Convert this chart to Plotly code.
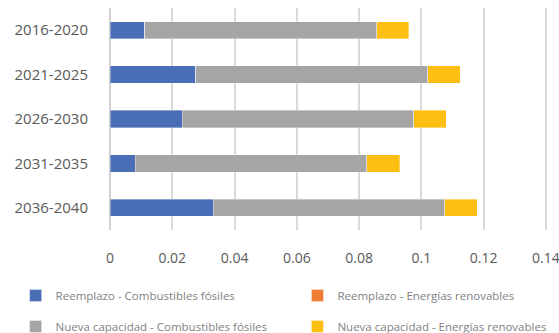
import plotly.graph_objects as go

# Periods and stacked capacity segments
periods = ["2016-2020", "2021-2025", "2026-2030", "2031-2035", "2036-2040"]
reemplazo_fosiles = [0.0112, 0.0276, 0.0232, 0.0081, 0.0331]
reemplazo_renovables = [0.0, 0.0, 0.0, 0.0, 0.0]
nueva_fosiles = [0.0745, 0.0744, 0.0744, 0.0744, 0.0744]
nueva_renovables = [0.0103, 0.0105, 0.0104, 0.0105, 0.0105]
x_ticks = [0, 0.02, 0.04, 0.06, 0.08, 0.1, 0.12, 0.14]
x_tick_labels = ["0", "0.02", "0.04", "0.06", "0.08", "0.1", "0.12", "0.14"]

# (name, values, colour, legend column)
series = [
    ("Reemplazo - Combustibles fósiles", reemplazo_fosiles, "#4A6EB6", "legend"),
    ("Reemplazo - Energías renovables", reemplazo_renovables, "#ED7D31", "legend2"),
    ("Nueva capacidad - Combustibles fósiles", nueva_fosiles, "#A5A5A5", "legend"),
    ("Nueva capacidad - Energías renovables", nueva_renovables, "#FCBF12", "legend2"),
]

fig = go.Figure()
for name, vals, color, leg in series:
    fig.add_trace(go.Bar(
        y=periods, x=vals, name=name, orientation="h",
        legend=leg, legendgroup=name,
        marker=dict(color=color, line=dict(color="rgba(255,255,255,0.6)", width=0.6)),
    ))

font_family = "Open Sans, Lato, sans-serif"
legend_common = dict(
    orientation="v", yanchor="top", y=-0.23,
    traceorder="grouped", tracegroupgap=12,
    font=dict(size=11.5, color="#7F7F7F", family=font_family),
    itemwidth=30, bgcolor="rgba(0,0,0,0)",
)
fig.update_layout(
    width=559, height=333,
    barmode="stack", bargap=0.61,
    plot_bgcolor="white", paper_bgcolor="white",
    margin=dict(l=110, r=10, t=8, b=103, autoexpand=False),
    font=dict(family=font_family, color="#595959"),
    legend=dict(x=-0.215, xanchor="left", **legend_common),
    legend2=dict(x=0.427, xanchor="left", **legend_common),
    xaxis=dict(
        range=[0, 0.141], tickvals=x_ticks, ticktext=x_tick_labels,
        showgrid=True, gridcolor="#D9D9D9", gridwidth=1.5,
        zeroline=True, zerolinecolor="#CFCFCF", zerolinewidth=1.5,
        ticks="outside", ticklen=15, tickcolor="rgba(0,0,0,0)",
        tickfont=dict(size=14, color="#595959"), fixedrange=True,
        ticklabeloverflow="allow", automargin=False,
    ),
    yaxis=dict(
        autorange="reversed", showgrid=False,
        ticks="outside", ticklen=18, tickcolor="rgba(0,0,0,0)",
        tickfont=dict(size=15, color="#595959"),
    ),
)

fig.write_html("out.html")
